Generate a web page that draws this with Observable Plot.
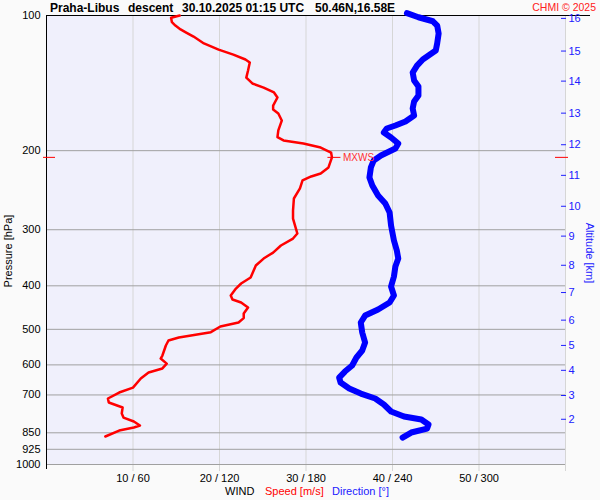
<!DOCTYPE html>
<html><head><meta charset="utf-8">
<script src="https://cdn.jsdelivr.net/npm/d3@7"></script>
<script src="https://cdn.jsdelivr.net/npm/@observablehq/plot@0.6"></script>
<style>body{margin:0;background:#fafafa;} svg{display:block}</style>
</head><body><div id="chart"></div>
<script>
// Wind speed profile (pressure hPa, speed m/s)
const speedP = [100, 101.2, 103.5, 105.3, 107.4, 109.0, 111.4, 115.4, 119.1, 122.2, 125.3, 127.2, 132.6, 137.5, 141.7, 144.7, 148.4, 152.3, 158.7, 162.0, 165.3, 171.4, 180.3, 186.6, 189.8, 192.8, 196.8, 201.9, 207, 218.0, 224.8, 228.3, 233.0, 242.8, 255.6, 271.9, 283.3, 296.7, 305.9, 313.9, 325.3, 337.3, 347.8, 360.5, 383.3, 395.3, 405.6, 420.4, 429.1, 435.7, 447.0, 461.0, 472.0, 482.7, 492.8, 507.3, 521.3, 529.5, 543.3, 571.8, 580.7, 596.0, 611.0, 624.0, 643.5, 674.0, 691.4, 712.9, 727.7, 746.5, 770.0, 786.0, 802.2, 818.9, 827.3, 840.2, 866.3];
const speedV = [15.4, 14.4, 14.5, 14.9, 15.5, 16.1, 17.0, 18.2, 19.9, 21.6, 23.0, 23.5, 23.3, 23.1, 23.8, 25.1, 26.3, 26.7, 26.2, 26.2, 26.8, 27.2, 26.8, 26.7, 27.4, 29.7, 31.7, 32.9, 33.0, 32.6, 31.7, 30.6, 29.6, 29.3, 28.6, 28.5, 28.5, 28.8, 29.0, 28.5, 27.1, 26.2, 25.1, 24.2, 23.6, 22.5, 21.9, 21.3, 21.5, 22.5, 23.3, 22.8, 22.8, 22.2, 20.1, 19.0, 15.3, 14.1, 13.8, 13.4, 13.2, 13.9, 13.4, 11.8, 10.9, 10.0, 8.4, 7.1, 7.2, 8.8, 8.7, 8.9, 10.1, 10.8, 10.1, 8.4, 6.8];
// Wind direction profile (pressure hPa, direction deg)
const dirP = [98.8, 100.9, 103.0, 105.3, 109.7, 115.4, 119.7, 122.8, 125.3, 129.3, 134.0, 139.6, 143.9, 150.7, 155.4, 161.1, 167.0, 172.2, 175.8, 178.5, 182.2, 186.9, 192.8, 197.8, 205.0, 210.3, 218.0, 229.5, 239.1, 251.8, 262.3, 274.7, 293.6, 317.0, 333.8, 347.8, 362.3, 381.4, 401.4, 420.4, 435.7, 451.7, 465.9, 482.7, 508.1, 535.0, 557.4, 577.7, 602.0, 620.9, 640.3, 656.9, 677.5, 695.1, 712.9, 735.2, 762.1, 781.9, 794.1, 814.7, 831.6, 848.8, 870.9];
const dirV = [250, 258, 268, 271, 272, 271, 270, 265, 261, 257, 254, 255, 258, 258, 255, 254, 255, 249, 242, 236, 234, 239, 244, 242, 232, 227, 225, 224, 226, 230, 235, 238, 239, 241, 243, 244, 242, 241, 239, 241, 238, 230, 221, 218, 219, 221, 219, 215, 212, 207, 203, 204, 210, 218, 228, 234, 239, 248, 260, 265, 264, 253, 247];
// Axes
const pressureGrid = [200, 300, 400, 500, 600, 700, 850, 925, 1000];
const pressureLabels = [100, 200, 300, 400, 500, 600, 700, 850, 925, 1000];
const windTicks = [10, 20, 30, 40, 50];
const altKm = [2, 3, 4, 5, 6, 7, 8, 9, 10, 11, 12, 13, 14, 15, 16];
const altP = [793, 702, 617, 543, 477, 414, 360, 310, 266, 227, 194, 165, 140, 120, 101.5];

const speed = speedP.map((p, i) => ({p, v: speedV[i]}));
const dir = dirP.map((p, i) => ({p, d: dirV[i]}));
const mx = speed.reduce((a, b) => (b.v > a.v ? b : a));

const font = "'Liberation Sans', Arial, Helvetica, sans-serif";
const chart = Plot.plot({
  width: 600, height: 500,
  marginTop: 15, marginLeft: 46, marginRight: 35, marginBottom: 36,
  style: {background: "transparent", fontFamily: font, fontSize: "11px", overflow: "visible", color: "black"},
  x: {domain: [0, 60], axis: null},
  y: {type: "log", domain: [100, 1000], reverse: true, axis: null},
  marks: [
    Plot.frame({fill: "#f0f0fc", stroke: "none"}),
    Plot.ruleX(windTicks, {stroke: "#d6d6d6", insetBottom: -7}),
    Plot.ruleX([60], {stroke: "#d6d6d6", insetBottom: -7}),
    Plot.ruleY(pressureGrid, {stroke: "#a0a0a0"}),
    Plot.ruleX([0], {stroke: "black", insetBottom: -5}),
    Plot.ruleY([100], {stroke: "black", insetRight: -25}),
    Plot.axisY(pressureLabels, {anchor: "left", tickSize: 0, tickPadding: 6, label: null, fill: "black", tickFormat: d => String(d)}),
    Plot.axisX(windTicks, {anchor: "bottom", tickSize: 0, tickPadding: 10, label: null, fill: "black", tickFormat: d => `${d} / ${d * 6}`}),
    Plot.axisY(altP, {anchor: "right", tickSize: 5, dx: -5, fill: "none", stroke: "#2020ff", label: null}),
    Plot.axisY(altP, {anchor: "right", tickSize: 0, tickPadding: 3, stroke: "none", fill: "#2020ff", label: null, tickFormat: d => String(altKm[altP.indexOf(d)])}),
    // MXWS markers
    Plot.ruleY([mx], {y: "p", x1: 0, x2: 0, insetLeft: -3, insetRight: -9, stroke: "red"}),
    Plot.ruleY([mx], {y: "p", x1: 60, x2: 60, insetLeft: -10, insetRight: -3, stroke: "red"}),
    Plot.line(dir, {x: d => d.d / 6, y: "p", stroke: "#0000ff", strokeWidth: 6, strokeLinejoin: "round", strokeLinecap: "round"}),
    Plot.line(speed, {x: "v", y: "p", stroke: "#ff0000", strokeWidth: 2.5, strokeLinejoin: "round"}),
    Plot.ruleY([mx], {y: "p", x1: "v", x2: "v", insetLeft: -4, insetRight: -9, stroke: "red"}),
    Plot.text([mx], {x: "v", y: "p", text: () => "MXWS", dx: 11, textAnchor: "start", fill: "#ff3030", fontSize: 10})
  ]
});
document.getElementById("chart").append(chart);

const svg = d3.select(chart);
const add = (txt, x, y, opts = {}) => {
  const t = svg.append("text").text(txt)
    .attr("font-family", font).attr("font-size", opts.size || 11)
    .attr("fill", opts.fill || "black")
    .attr("text-anchor", opts.anchor || "start");
  if (opts.weight) t.attr("font-weight", opts.weight);
  if (opts.transform) t.attr("transform", opts.transform);
  else t.attr("x", x).attr("y", y);
  return t;
};
add("Praha-Libus", 50, 12, {size: 12, weight: "bold"});
add("descent", 128, 12, {size: 12, weight: "bold"});
add("30.10.2025 01:15 UTC", 182, 12, {size: 12, weight: "bold"});
add("50.46N,16.58E", 315, 12, {size: 12, weight: "bold"});
add("CHMI \u00a9 2025", 596, 11, {size: 10.5, fill: "#ff2020", anchor: "end"});
add("WIND", 225, 495);
add("Speed [m/s]", 265, 495, {fill: "#ff0000"});
add("Direction [\u00b0]", 332, 495, {fill: "#2020ff"});
add("Pressure [hPa]", 0, 0, {anchor: "middle", transform: "translate(12,251) rotate(-90)"});
add("Altitude [km]", 0, 0, {anchor: "middle", fill: "#2020ff", transform: "translate(586,253) rotate(90)"});
</script>
</body></html>
